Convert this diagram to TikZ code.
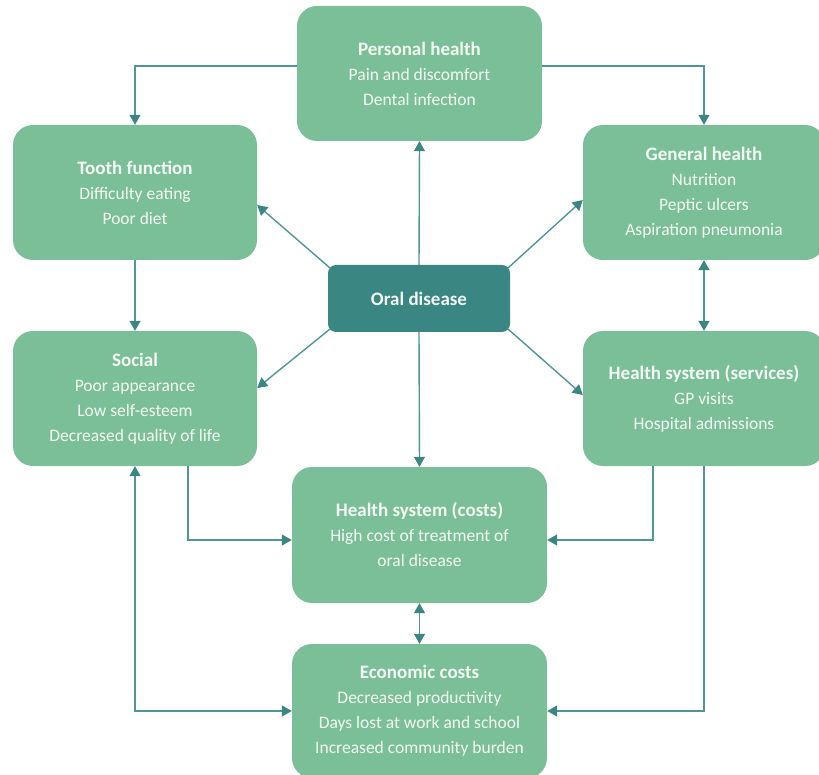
\documentclass[tikz,border=0pt]{standalone}
\usepackage{fontspec}
\setmainfont{Carlito}
\usetikzlibrary{arrows.meta,calc}
\definecolor{boxgreen}{HTML}{7BBF99}
\definecolor{darkteal}{HTML}{3A8683}
\definecolor{linecol}{HTML}{4F9696}
\definecolor{tipcol}{HTML}{3A8683}
\definecolor{txtcol}{HTML}{F3FAF3}
\newcommand{\ttl}[1]{{\fontsize{19}{25}\selectfont\bfseries #1}}
\tikzset{
  box/.style={fill=boxgreen, draw=none, rounded corners=20pt, text=txtcol, align=center,
    font=\fontsize{17.5}{25}\selectfont, inner sep=0pt},
  centralbox/.style={fill=darkteal, draw=none, rounded corners=8pt, text=txtcol, align=center,
    font=\fontsize{19}{25}\selectfont\bfseries, inner sep=0pt},
  conn/.style={draw=linecol, line width=1.4pt, -{Triangle[width=11pt,length=10pt,color=tipcol]}},
  conn2/.style={draw=linecol, line width=1.4pt, {Triangle[width=11pt,length=10pt,color=tipcol]}-{Triangle[width=11pt,length=10pt,color=tipcol]}}
}
\begin{document}
\begin{tikzpicture}[x=1pt,y=-1pt]
\useasboundingbox (0,0) rectangle (819,775);
\node[box, minimum width=245pt, minimum height=135pt] (personal) at (419.5,73.5)
  {\ttl{Personal health}\\Pain and discomfort\\Dental infection};
\node[box, minimum width=244pt, minimum height=135pt] (tooth) at (135,192.5)
  {\ttl{Tooth function}\\Difficulty eating\\Poor diet};
\node[box, minimum width=242pt, minimum height=135pt] (general) at (704,192.5)
  {\ttl{General health}\\Nutrition\\Peptic ulcers\\Aspiration pneumonia};
\node[centralbox, minimum width=182pt, minimum height=67pt] (oral) at (419,298.5)
  {Oral disease};
\node[box, minimum width=244pt, minimum height=135pt] (social) at (135,398.5)
  {\ttl{Social}\\Poor appearance\\Low self-esteem\\Decreased quality of life};
\node[box, minimum width=242pt, minimum height=135pt] (services) at (704,398.5)
  {\ttl{Health system (services)}\\GP visits\\Hospital admissions};
\node[box, minimum width=255pt, minimum height=136pt] (costs) at (419.5,535)
  {\ttl{Health system (costs)}\\High cost of treatment of\\oral disease};
\node[box, minimum width=255pt, minimum height=134pt] (economic) at (419.5,711)
  {\ttl{Economic costs}\\Decreased productivity\\Days lost at work and school\\Increased community burden};

\coordinate (p66) at (0,66);
\coordinate (p540) at (0,540);
\coordinate (c188) at (188,0);
\coordinate (c653) at (653,0);
\coordinate (pt205) at (0,205);
\coordinate (pg200) at (0,200);
\coordinate (ps388) at (0,388);
\coordinate (pv395) at (0,395);

\draw[conn] (personal.west |- p66) -| (tooth.north);
\draw[conn] (personal.east |- p66) -| (general.north);
\draw[conn] (oral.north) -- (personal.south);
\draw[conn] ($(oral.north west)+(2,3)$) -- (tooth.east |- pt205);
\draw[conn] ($(oral.north east)+(-2,3)$) -- (general.west |- pg200);
\draw[conn] ($(oral.south west)+(2,-3)$) -- (social.east |- ps388);
\draw[conn] ($(oral.south east)+(-2,-3)$) -- (services.west |- pv395);
\draw[conn] (oral.south) -- (costs.north);
\draw[conn] (tooth.south) -- (social.north);
\draw[conn2] (general.south) -- (services.north);
\draw[conn] (c188 |- social.south) |- (costs.west |- p540);
\draw[conn2] (social.south) |- (economic.west);
\draw[conn] (c653 |- services.south) |- (costs.east |- p540);
\draw[conn] (services.south) |- (economic.east);
\draw[conn2] (costs.south) -- (economic.north);
\end{tikzpicture}
\end{document}
